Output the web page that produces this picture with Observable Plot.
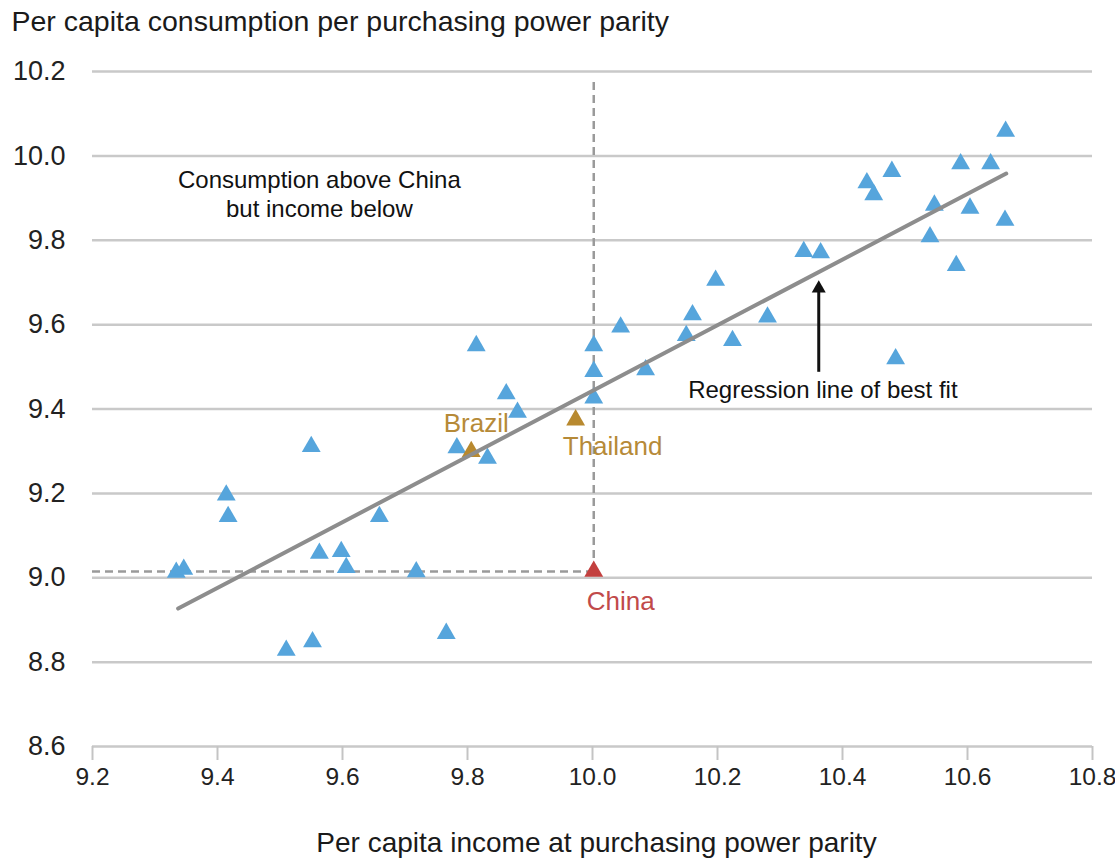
<!DOCTYPE html>
<html>
<head>
<meta charset="utf-8">
<script src="https://cdn.jsdelivr.net/npm/d3@7"></script>
<script src="https://cdn.jsdelivr.net/npm/@observablehq/plot@0.6"></script>
<style>
  body { margin: 0; background: #ffffff; }
  #chart svg { display: block; }
</style>
</head>
<body>
<div id="chart"></div>
<script>
// ---- Data ----
const otherIncome = [9.334, 9.346, 9.414, 9.417, 9.550, 9.563, 9.598, 9.606, 9.659, 9.510,
  9.552, 9.766, 9.718, 9.814, 9.862, 9.880, 9.783, 9.832, 10.002, 10.002,
  10.002, 10.045, 10.085, 10.150, 10.160, 10.224, 10.280, 10.197, 10.338, 10.365,
  10.439, 10.450, 10.479, 10.485, 10.547, 10.540, 10.589, 10.582, 10.604, 10.637,
  10.661, 10.660];
const otherConsumption = [9.013, 9.020, 9.196, 9.145, 9.311, 9.058, 9.062, 9.024, 9.145, 8.828,
  8.848, 8.868, 9.014, 9.550, 9.436, 9.392, 9.308, 9.283, 9.426, 9.489,
  9.550, 9.594, 9.493, 9.574, 9.623, 9.562, 9.618, 9.705, 9.773, 9.770,
  9.936, 9.908, 9.963, 9.519, 9.883, 9.808, 9.981, 9.740, 9.876, 9.981,
  10.058, 9.847];

const highlightNames = ["Brazil", "Thailand", "China"];
const highlightIncome = [9.806, 9.973, 10.002];
const highlightConsumption = [9.299, 9.374, 9.015];

// regression line of best fit (end points)
const regressionIncome = [9.337, 10.662];
const regressionConsumption = [8.927, 9.958];

const xTicks = [9.2, 9.4, 9.6, 9.8, 10.0, 10.2, 10.4, 10.6, 10.8];
const yTicks = [8.6, 8.8, 9.0, 9.2, 9.4, 9.6, 9.8, 10.0, 10.2];

const yTitle = "Per capita consumption per purchasing power parity";
const xTitle = "Per capita income at purchasing power parity";
const noteAbove = "Consumption above China\nbut income below";
const noteRegression = "Regression line of best fit";

// ---- tables built from the arrays ----
const others = otherIncome.map((x, i) => ({x, y: otherConsumption[i]}));
const highlights = highlightNames.map((name, i) => ({name, x: highlightIncome[i], y: highlightConsumption[i]}));
const regression = regressionIncome.map((x, i) => ({x, y: regressionConsumption[i]}));
const china = highlights.find(d => d.name === "China");
const brazil = highlights.filter(d => d.name === "Brazil");
const thailand = highlights.filter(d => d.name === "Thailand");
const chinaArr = highlights.filter(d => d.name === "China");

const BLUE = "#56a5dc";
const GOLD = "#b8892f";
const RED = "#c3403f";
const GOLD_TEXT = "#b68a38";
const RED_TEXT = "#c14a4a";
const FONT = "'Liberation Sans', Arial, Helvetica, sans-serif";

const chart = Plot.plot({
  width: 1115,
  height: 862,
  marginLeft: 92,
  marginRight: 23,
  marginTop: 71,
  marginBottom: 116,
  style: {fontFamily: FONT, background: "#ffffff", color: "#222222"},
  x: {domain: [9.2, 10.8]},
  y: {domain: [8.6, 10.2]},
  marks: [
    Plot.gridY(yTicks, {stroke: "#c9c9c9", strokeOpacity: 1, strokeWidth: 2.5}),
    Plot.axisY(yTicks, {
      tickSize: 0, tickPadding: 27, fontSize: 27, label: null,
      tickFormat: d3.format(".1f"), fill: "#222222"
    }),
    Plot.axisX(xTicks, {
      tickSize: 14, tickPadding: 7, fontSize: 24.5, label: null,
      tickFormat: d3.format(".1f"), stroke: "#c4c4c4", strokeWidth: 2, fill: "#222222"
    }),
    // dashed reference lines through China
    Plot.ruleX([china], {x: "x", y1: "y", y2: 10.18, stroke: "#9a9a9a", strokeWidth: 2.5, strokeDasharray: "8,5"}),
    Plot.ruleY([china], {y: "y", x1: 9.2, x2: "x", stroke: "#9a9a9a", strokeWidth: 2.5, strokeDasharray: "8,5"}),
    // countries
    Plot.dot(others, {x: "x", y: "y", symbol: "triangle", r: 7, fill: BLUE, stroke: "none"}),
    Plot.dot(highlights, {x: "x", y: "y", symbol: "triangle", r: 7, fill: d => d.name === "China" ? RED : GOLD, stroke: "none"}),
    // regression line
    Plot.line(regression, {x: "x", y: "y", stroke: "#8d8d8d", strokeWidth: 4}),
    // highlight labels
    Plot.text(brazil, {x: "x", y: "y", text: "name", fill: GOLD_TEXT, fontSize: 26, dx: 5, dy: -28}),
    Plot.text(thailand, {x: "x", y: "y", text: "name", fill: GOLD_TEXT, fontSize: 26, dx: 37, dy: 27}),
    Plot.text(chinaArr, {x: "x", y: "y", text: "name", fill: RED_TEXT, fontSize: 26, dx: 27, dy: 30}),
    // annotations
    Plot.text([noteAbove], {x: 9.563, y: 9.912, text: d => d, fontSize: 24, lineHeight: 1.2, fill: "#111111", textAnchor: "middle"}),
    Plot.text([noteRegression], {x: 10.153, y: 9.444, text: d => d, fontSize: 24, fill: "#111111", textAnchor: "start"}),
    Plot.ruleX([10.362], {y1: 9.487, y2: 9.68, stroke: "#111111", strokeWidth: 3}),
    Plot.dot([10.362], {x: d => d, y: 9.686, symbol: "triangle", r: 5.2, fill: "#111111", stroke: "none"}),
    // axis titles
    Plot.text([yTitle], {frameAnchor: "top-left", text: d => d, dx: -81, dy: -50, textAnchor: "start", lineAnchor: "middle", fontSize: 28.5, fill: "#1a1a1a"}),
    Plot.text([xTitle], {frameAnchor: "bottom", text: d => d, dx: 4, dy: 97, textAnchor: "middle", lineAnchor: "middle", fontSize: 28, fill: "#1a1a1a"})
  ]
});

document.getElementById("chart").appendChild(chart);
</script>
</body>
</html>
